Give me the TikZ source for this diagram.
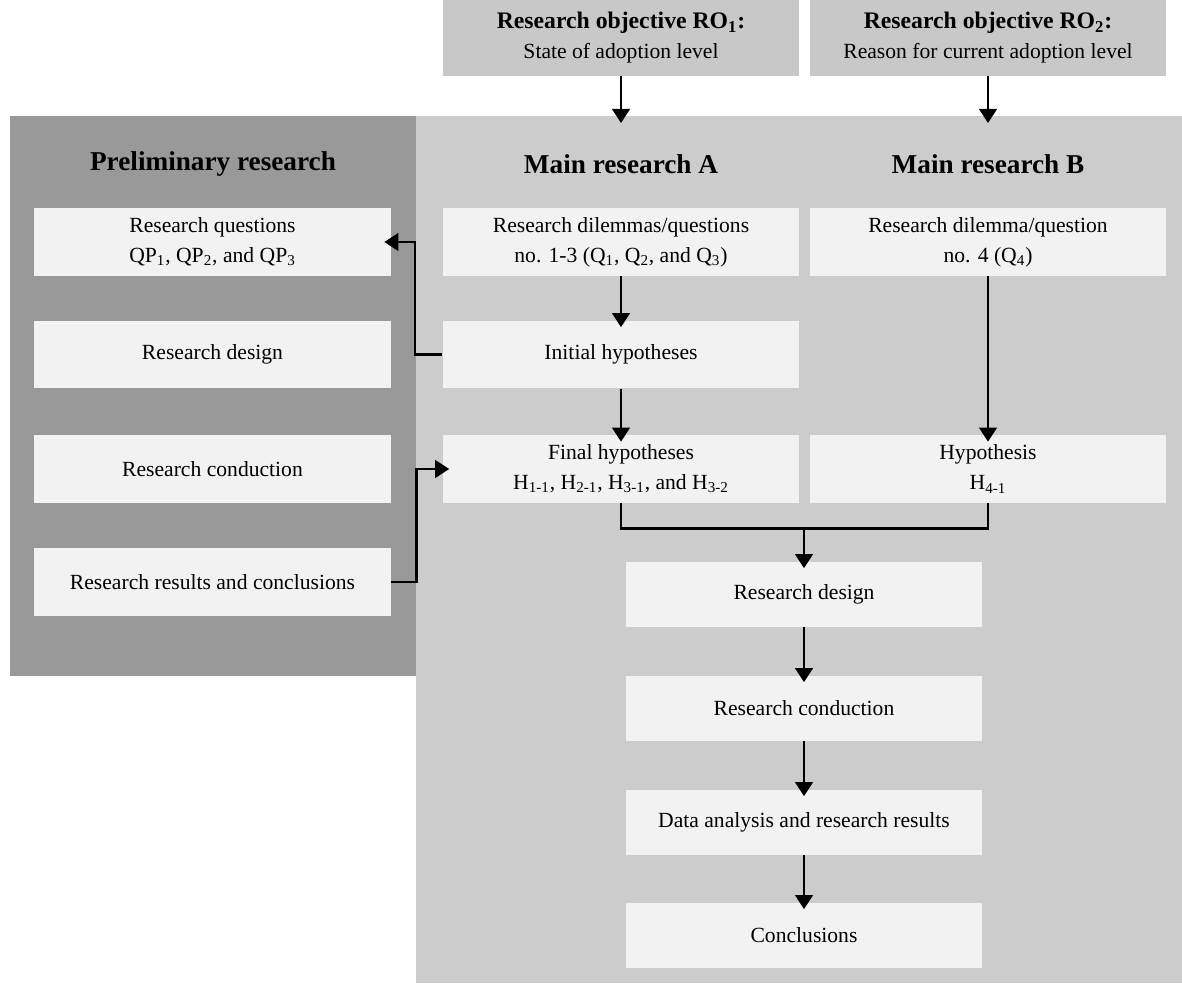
\documentclass[tikz,border=0pt]{standalone}
\usepackage{fontspec}
\setmainfont{Liberation Serif}
\usetikzlibrary{arrows.meta, positioning}
\definecolor{darkregion}{RGB}{153, 153, 153}
\definecolor{lightregion}{RGB}{204, 204, 204}
\definecolor{boxfill}{RGB}{242, 242, 242}
\definecolor{objfill}{RGB}{200, 200, 200}
\tikzset{
  stepbox/.style={
    rectangle, fill=boxfill, inner sep=2pt,
    minimum width=7.14cm, minimum height=1.36cm, align=center,
    font=\fontsize{12.3}{17}\selectfont
  },
  flowbox/.style={
    stepbox, minimum width=7.12cm, minimum height=1.3cm
  },
  objbox/.style={
    rectangle, fill=objfill, inner sep=2pt,
    minimum width=7.12cm, minimum height=1.52cm, align=center,
    font=\fontsize{12.3}{17}\selectfont
  },
  titlebox/.style={
    font=\fontsize{15.5}{18}\selectfont\bfseries
  },
  arrow/.style={
    -{Triangle[length=8pt, width=10pt]}, line width=1.4pt, shorten >=-4pt
  },
  link/.style={
    line width=1.4pt
  }
}
\begin{document}
\begin{tikzpicture}[x=0.02cm, y=-0.02cm]
  \useasboundingbox (0,0) rectangle (1182,983);
  % background regions
  \fill[darkregion] (10,116) rectangle (416,676);
  \fill[lightregion] (416,116) rectangle (1182,983);

  % research objectives
  \node[objbox] (roA) at (621,38) {{\fontsize{13.5}{15.4}\selectfont\bfseries Research objective RO\textsubscript{1}:}\\ State of adoption level};
  \node[objbox] (roB) at (988,38) {{\fontsize{13.5}{15.4}\selectfont\bfseries Research objective RO\textsubscript{2}:}\\ Reason for current adoption level};
  \coordinate (entryA) at (621,116);
  \coordinate (entryB) at (988,116);

  % titles
  \node[titlebox] (prelim) at (213,164) {Preliminary research};
  \node[titlebox] (mainA) at (621,164) {Main research A};
  \node[titlebox] (mainB) at (988,164) {Main research B};

  % preliminary research
  \node[stepbox] (rq) at (212.5,242) {Research questions\\ QP\textsubscript{1}, QP\textsubscript{2}, and QP\textsubscript{3}};
  \node[stepbox] (prelimDesign) at (212.5,354.5) {Research design};
  \node[stepbox] (prelimConduct) at (212.5,469) {Research conduction};
  \node[stepbox] (prelimResults) at (212.5,582) {Research results and conclusions};

  % main research A and B
  \node[stepbox] (qA) at (621,242) {Research dilemmas/questions\\ no. 1-3 (Q\textsubscript{1}, Q\textsubscript{2}, and Q\textsubscript{3})};
  \node[stepbox] (initA) at (621,354.5) {Initial hypotheses};
  \node[stepbox] (finalA) at (621,469) {Final hypotheses\\ H\textsubscript{1-1}, H\textsubscript{2-1}, H\textsubscript{3-1}, and H\textsubscript{3-2}};
  \node[stepbox] (qB) at (988,242) {Research dilemma/question\\ no. 4 (Q\textsubscript{4})};
  \node[stepbox] (hypB) at (988,469) {Hypothesis\\ H\textsubscript{4-1}};

  % common steps
  \node[flowbox] (design) at (804,594) {Research design};
  \node[flowbox] (conduct) at (804,708) {Research conduction};
  \node[flowbox] (analysis) at (804,822) {Data analysis and research results};
  \node[flowbox] (concl) at (804,935) {Conclusions};
  \coordinate (merge) at (804,528);

  % connectors
  \draw[arrow] (roA.south) -- (entryA);
  \draw[arrow] (roB.south) -- (entryB);
  \draw[arrow] (qA) -- (initA);
  \draw[arrow] (initA) -- (finalA);
  \draw[arrow] (qB) -- (hypB);
  \draw[arrow] (initA.west) -- ++(-27,0) |- (rq.east);
  \draw[arrow] (prelimResults.east) -- ++(25,0) |- (finalA.west);
  \draw[link] (finalA.south) -- ++(0,25) -| (hypB.south);
  \draw[arrow] (merge) -- (design);
  \draw[arrow] (design) -- (conduct);
  \draw[arrow] (conduct) -- (analysis);
  \draw[arrow] (analysis) -- (concl);
\end{tikzpicture}
\end{document}
